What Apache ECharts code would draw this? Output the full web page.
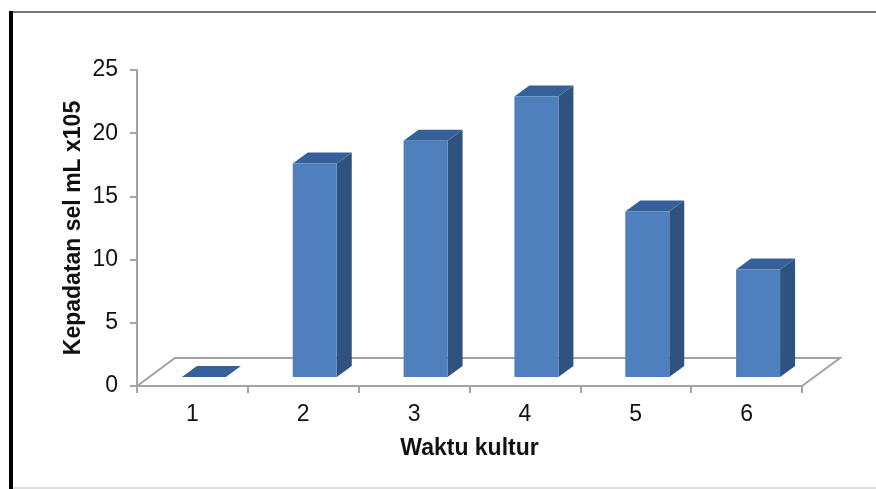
<!DOCTYPE html>
<html>
<head>
<meta charset="utf-8">
<style>html,body{margin:0;padding:0;background:#fff}#chart{width:876px;height:489px}</style>
<script src="https://cdn.jsdelivr.net/npm/echarts@6/dist/echarts.min.js"></script>
</head>
<body>
<div id="chart"></div>
<script>
// Cell density per culture time
const categories = ['1', '2', '3', '4', '5', '6'];
const density = [0, 16.9, 18.7, 22.2, 13.1, 8.5];
const yTicks = { min: 0, max: 25, interval: 5 };
const xTitle = 'Waktu kultur';
const yTitle = 'Kepadatan sel mL x105';

// Pseudo-3D look of the bars and floor, in pixels
const DEPTH_X = 15, DEPTH_Y = 11;
const FLOOR_X = 38, FLOOR_Y = 28;
const BASE_LIFT = 9, BAR_SHIFT = 11.5, BAR_WIDTH = 44;
const FRONT = '#4f80bd', SIDE = '#30527f', TOP = '#36609a', AXIS = '#a3a3a3';
const FONT = '"Liberation Sans", Arial, sans-serif';

function renderFloor(params, api) {
  const origin = api.coord([0, 0]);
  const band = api.size([1, 0])[0];
  const left = origin[0] - band / 2;
  const right = left + band * categories.length;
  const y = origin[1];
  return {
    type: 'polyline',
    shape: { points: [[left, y], [left + FLOOR_X, y - FLOOR_Y], [right + FLOOR_X, y - FLOOR_Y], [right, y]] },
    style: { fill: null, stroke: AXIS, lineWidth: 2 }
  };
}

function renderBar(params, api) {
  const base = api.coord([api.value(0), 0]);
  const top = api.coord([api.value(0), api.value(1)]);
  const x0 = base[0] + BAR_SHIFT - BAR_WIDTH / 2;
  const x1 = x0 + BAR_WIDTH;
  const yb = base[1] - BASE_LIFT;
  const yt = top[1] - BASE_LIFT;
  const face = (pts, fill) => ({ type: 'polygon', shape: { points: pts }, style: { fill: fill } });
  return {
    type: 'group',
    children: [
      face([[x1, yb], [x1 + DEPTH_X, yb - DEPTH_Y], [x1 + DEPTH_X, yt - DEPTH_Y], [x1, yt]], SIDE),
      face([[x0, yt], [x0 + DEPTH_X, yt - DEPTH_Y], [x1 + DEPTH_X, yt - DEPTH_Y], [x1, yt]], TOP),
      { type: 'rect', shape: { x: x0, y: yt, width: BAR_WIDTH, height: yb - yt }, style: { fill: FRONT } }
    ]
  };
}

const chart = echarts.init(document.getElementById('chart'), null, { renderer: 'canvas' });
chart.setOption({
  animation: false,
  backgroundColor: '#fff',
  grid: { left: 137, right: 74, top: 70, bottom: 103 },
  xAxis: {
    type: 'category',
    data: categories,
    name: xTitle,
    nameLocation: 'middle',
    nameGap: 51,
    nameTextStyle: { fontFamily: FONT, fontSize: 23, fontWeight: 'bold', color: '#111' },
    axisLine: { lineStyle: { color: AXIS, width: 2 } },
    axisTick: { show: true, length: 7, alignWithLabel: false, lineStyle: { color: AXIS, width: 2 } },
    axisLabel: { fontFamily: FONT, fontSize: 23, color: '#111', margin: 17 },
    splitLine: { show: false }
  },
  yAxis: {
    type: 'value',
    min: yTicks.min,
    max: yTicks.max,
    interval: yTicks.interval,
    name: yTitle,
    nameLocation: 'middle',
    nameGap: 52,
    nameMoveOverlap: false,
    nameTextStyle: { fontFamily: FONT, fontSize: 23, fontWeight: 'bold', color: '#111' },
    axisLine: { show: true, lineStyle: { color: AXIS, width: 2 } },
    axisTick: { show: true, length: 7, lineStyle: { color: AXIS, width: 2 } },
    axisLabel: { fontFamily: FONT, fontSize: 23, color: '#111', margin: 19 },
    splitLine: { show: false }
  },
  graphic: [
    // Page frame: heavy left rule, thin top and bottom rules
    { type: 'rect', silent: true, shape: { x: 9, y: 11, width: 867, height: 2 }, style: { fill: '#777' } },
    { type: 'rect', silent: true, shape: { x: 9, y: 487, width: 867, height: 2 }, style: { fill: '#ddd' } },
    { type: 'rect', silent: true, shape: { x: 9, y: 11, width: 4, height: 478 }, style: { fill: '#000' } }
  ],
  series: [
    { type: 'custom', renderItem: renderFloor, data: [[0, 0]], clip: false, silent: true, z: 1 },
    { type: 'custom', renderItem: renderBar, data: density.map((v, i) => [i, v]), encode: { x: 0, y: 1 }, clip: false, z: 3 }
  ]
});
</script>
</body>
</html>
